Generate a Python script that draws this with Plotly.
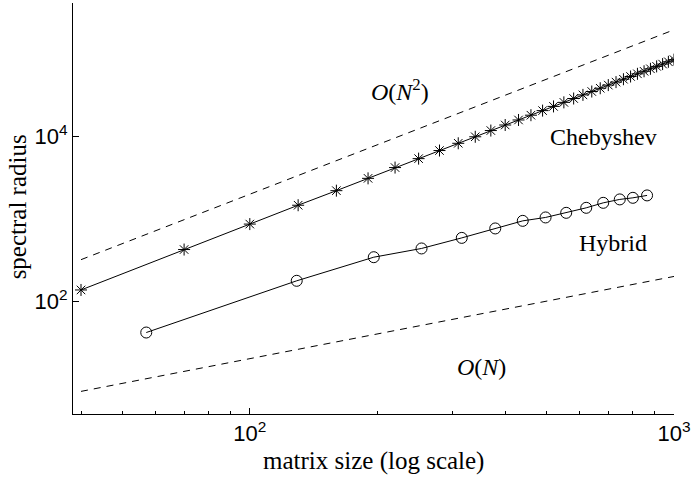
import math
import plotly.graph_objects as go

# Chebyshev spectral radius vs matrix size
N_cheb = [40, 70, 100, 130, 160, 190, 220, 250, 280, 310, 340, 370, 400, 430,
          460, 490, 520, 550, 580, 610, 640, 670, 700, 730, 760, 790, 820, 850,
          880, 910, 940, 970, 1000]
rho_cheb = [137, 425, 867, 1470, 2210, 3120, 4220, 5420, 6800, 8330, 10000,
            11900, 13900, 16000, 18300, 20800, 23400, 26200, 29200, 32300,
            35500, 38900, 42500, 46200, 50100, 54100, 58300, 62600, 67100,
            71800, 76600, 81600, 86700]

# Hybrid scheme spectral radius
N_hyb = [57, 129, 196, 254, 316, 379, 440, 498, 557, 621, 681, 745, 800, 864]
rho_hyb = [41.6, 177, 343, 438, 589, 767, 949, 1044, 1188, 1367, 1572, 1730,
           1809, 1935]

# Reference growth rates
N_ref = [40, 1000]
ref_quadratic = [320, 200000]
ref_linear = [8, 200]

x_ticks = [100, 1000]
x_ticktext = ["10<sup>2</sup>", "10<sup>3</sup>"]
x_minor = [40, 50, 60, 70, 80, 90, 200, 300, 400, 500, 600, 700, 800, 900]
y_ticks = [100, 10000]
y_ticktext = ["10<sup>2</sup>", "10<sup>4</sup>"]

serif = "Liberation Serif"
sans = "Liberation Sans"

fig = go.Figure()

for yref in (ref_quadratic, ref_linear):
    fig.add_trace(go.Scatter(
        x=N_ref, y=yref, mode="lines",
        line=dict(color="black", width=1, dash="7px,6px"),
        hoverinfo="skip"))

fig.add_trace(go.Scatter(
    x=N_cheb, y=rho_cheb, mode="lines+markers", name="Chebyshev",
    line=dict(color="black", width=1),
    marker=dict(symbol="asterisk-open", size=10,
                line=dict(color="black", width=1))))

fig.add_trace(go.Scatter(
    x=N_hyb, y=rho_hyb, mode="lines+markers", name="Hybrid",
    line=dict(color="black", width=1),
    marker=dict(symbol="circle-open", size=11, color="black",
                line=dict(color="black", width=1))))

labels = [
    ("<i>O</i>(<i>N</i><sup>2</sup>)", 226, 37000),
    ("Chebyshev", 681, 10000),
    ("Hybrid", 719, 508),
    ("<i>O</i>(<i>N</i>)", 352, 15.7),
]
for text, xv, yv in labels:
    fig.add_annotation(x=math.log10(xv), y=math.log10(yv), text=text,
                       showarrow=False, xanchor="center", yanchor="middle",
                       font=dict(family=serif, size=24, color="black"))

fig.add_annotation(xref="paper", yref="paper", x=-0.093, y=0.503,
                   text="spectral radius", textangle=-90, showarrow=False,
                   xanchor="center", yanchor="middle",
                   font=dict(family=serif, size=25, color="black"))
fig.add_annotation(xref="paper", yref="paper", x=0.5008, y=-0.114,
                   text="matrix size (log scale)", showarrow=False,
                   xanchor="center", yanchor="middle",
                   font=dict(family=serif, size=25, color="black"))

fig.update_xaxes(
    type="log", range=[math.log10(38.3), 3],
    showline=True, linecolor="black", linewidth=1, mirror=False,
    showgrid=False, zeroline=False,
    ticks="inside", ticklen=6, tickcolor="black", tickwidth=1,
    tickmode="array", tickvals=x_ticks, ticktext=x_ticktext,
    tickfont=dict(family=sans, size=22, color="black"),
    minor=dict(ticks="inside", ticklen=3, tickcolor="black",
               tickmode="array", tickvals=x_minor, showgrid=False))

fig.update_yaxes(
    type="log", range=[0.628, 5.627],
    showline=True, linecolor="black", linewidth=1, mirror=False,
    showgrid=False, zeroline=False,
    ticks="inside", ticklen=6, tickcolor="black", tickwidth=1,
    tickmode="array", tickvals=y_ticks, ticktext=y_ticktext,
    tickfont=dict(family=sans, size=22, color="black"))

fig.update_layout(
    width=694, height=479,
    margin=dict(l=73, r=18, t=3, b=65),
    plot_bgcolor="white", paper_bgcolor="white",
    showlegend=False)

fig.write_html("out.html")
